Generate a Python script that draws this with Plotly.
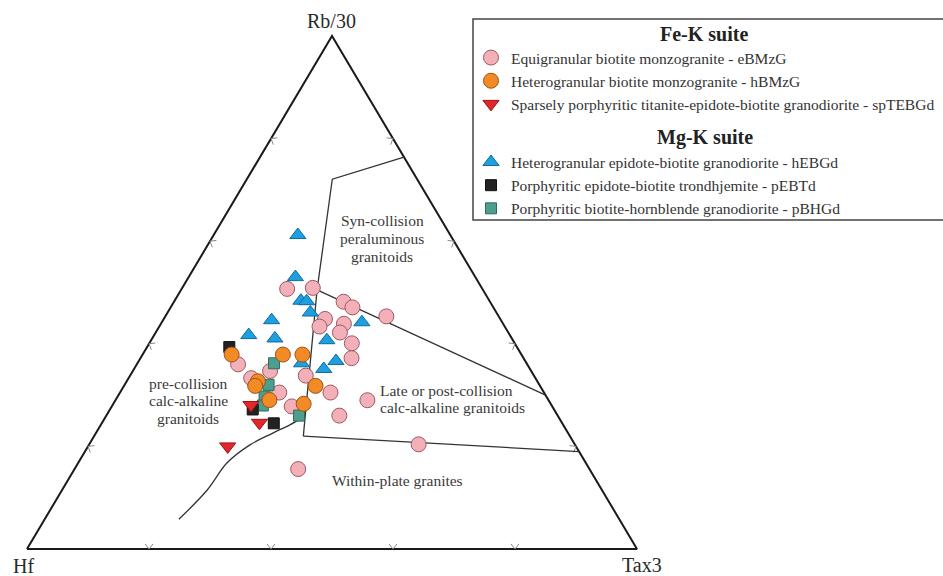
import math
import plotly.graph_objects as go

# ---------------------------------------------------------------------------
# Ternary compositions, in percent: Rb/30, Hf, Ta*3
# ---------------------------------------------------------------------------
# Fe-K suite
ebmzg_rb = [50.7, 50.9, 48.2, 47.1, 45.3, 44.8, 43.4, 43.9, 42.2, 40.1, 37.2,
            36.0, 34.7, 33.3, 33.8, 30.5, 30.5, 27.8, 26.0, 29.0, 20.4, 15.6]
ebmzg_hf = [32.0, 27.7, 24.0, 23.1, 18.4, 28.7, 30.4, 26.1, 27.6, 26.7, 28.2,
            47.4, 42.8, 46.6, 37.4, 43.4, 35.0, 42.7, 35.8, 29.7, 25.6, 47.8]
ebmzg_ta = [17.3, 21.4, 27.8, 29.8, 36.2, 26.4, 26.3, 30.0, 30.2, 33.2, 34.6,
            16.6, 22.5, 20.1, 28.8, 26.1, 34.5, 29.5, 38.2, 41.3, 54.0, 36.7]

hbmzg_rb = [37.9, 37.9, 37.9, 32.7, 31.8, 31.8, 29.0, 28.3]
hbmzg_hf = [47.5, 39.1, 35.9, 45.8, 46.7, 36.8, 45.7, 40.5]
hbmzg_ta = [14.6, 23.0, 26.2, 21.5, 21.5, 31.4, 25.2, 31.2]

sptebgd_rb = [28.1, 24.6, 20.0]
sptebgd_hf = [49.3, 49.6, 57.1]
sptebgd_ta = [22.7, 25.8, 22.9]

# Mg-K suite
hebgd_rb = [61.2, 53.0, 48.4, 48.3, 46.1, 44.2, 44.6, 41.7, 41.0, 40.7, 36.6, 35.1, 36.2]
hebgd_hf = [25.0, 29.5, 30.9, 30.0, 30.5, 23.0, 37.6, 42.8, 38.8, 30.5, 31.0, 33.8, 36.9]
hebgd_ta = [13.8, 17.5, 20.7, 21.7, 23.4, 32.8, 17.8, 15.5, 20.1, 28.8, 32.3, 31.1, 26.9]

pebtd_rb = [39.4, 27.2, 24.5]
pebtd_hf = [47.2, 49.4, 47.3]
pebtd_ta = [13.5, 23.4, 28.2]

pbhgd_rb = [36.2, 32.0, 29.7, 28.0, 26.0]
pbhgd_hf = [41.4, 44.4, 46.2, 47.4, 42.4]
pbhgd_ta = [22.4, 23.6, 24.1, 24.7, 31.6]

# Field boundaries (Harris et al., 1986), same ternary components
syn_rb = [76.4, 72.1, 50.5, 22.0]
syn_hf = [0.0, 13.9, 27.2, 43.7]
syn_ta = [23.6, 14.0, 22.3, 34.3]

late_rb = [50.5, 30.0]
late_hf = [27.2, 0.0]
late_ta = [22.3, 70.0]

wpg_rb = [22.0, 19.0]
wpg_hf = [43.7, 0.0]
wpg_ta = [34.3, 81.0]

vag_rb = [5.8, 11.5, 16.8, 20.3, 22.6, 24.2, 25.9]
vag_hf = [72.2, 64.7, 58.8, 53.3, 48.4, 44.8, 41.5]
vag_ta = [22.0, 23.8, 24.4, 26.4, 29.0, 31.0, 32.6]

tick_fracs = [20, 40, 60, 80]

# ---------------------------------------------------------------------------
W, H = 943, 576
# pixel extent of the triangle: base from x=27 to 637 at y=549, apex at y=36
X0, XW = 27, 610
Y0, YH = 549, 513


def to_xy(rb, hf, ta):
    """Project ternary compositions onto the planar triangle."""
    xs, ys = [], []
    for r, h, t in zip(rb, hf, ta):
        s = r + h + t
        a, c = r / s, t / s
        xs.append(c + a / 2)
        ys.append(a)
    return xs, ys


def paper(px, py):
    return px / W, 1 - py / H


fig = go.Figure()

# triangle frame
fx, fy = to_xy([0, 0, 100, 0], [100, 0, 0, 100], [0, 100, 0, 0])
fig.add_trace(go.Scatter(x=fx, y=fy, mode="lines", line=dict(color="#1a1a1a", width=2),
                         hoverinfo="skip", showlegend=False))

# chevron tick marks on each side (apex on the edge, arms pointing inward)
tx, ty = [], []
L, th = 6.5, math.radians(38)
sides = []
for f in tick_fracs:
    k = f / 100
    sides.append(((k, 0.0), (0.0, 1.0), (1.0, 0.0)))                       # base
    dl = (0.5 * XW, YH); nl = math.hypot(*dl)
    sides.append(((k / 2, k), (dl[1] / nl, -dl[0] / nl), (dl[0] / nl, dl[1] / nl)))   # left
    dr = (-0.5 * XW, YH); nr = math.hypot(*dr)
    sides.append(((1 - k / 2, k), (-dr[1] / nr, dr[0] / nr), (dr[0] / nr, dr[1] / nr)))  # right
for (px_, py_), n, d in sides:
    for sgn in (-1, 1):
        ux = n[0] * math.cos(th) + sgn * d[0] * math.sin(th)
        uy = n[1] * math.cos(th) + sgn * d[1] * math.sin(th)
        tx += [px_, px_ + L * ux / XW, None]
        ty += [py_, py_ + L * uy / YH, None]
fig.add_trace(go.Scatter(x=tx, y=ty, mode="lines", line=dict(color="#8a8a8a", width=1),
                         hoverinfo="skip", showlegend=False))

# field boundaries
for rb, hf, ta, shape in [(syn_rb, syn_hf, syn_ta, "linear"),
                          (late_rb, late_hf, late_ta, "linear"),
                          (wpg_rb, wpg_hf, wpg_ta, "linear"),
                          (vag_rb, vag_hf, vag_ta, "spline")]:
    bx, by = to_xy(rb, hf, ta)
    fig.add_trace(go.Scatter(x=bx, y=by, mode="lines",
                             line=dict(color="#333333", width=1.3, shape=shape),
                             hoverinfo="skip", showlegend=False))

# samples (drawing order controls overlap; legendrank controls legend order)
series = [
    ("Equigranular biotite monzogranite - eBMzG", ebmzg_rb, ebmzg_hf, ebmzg_ta,
     "circle", 15, "#F4B0B8", "#9A5A62", "fe", 1),
    ("Porphyritic biotite-hornblende granodiorite - pBHGd", pbhgd_rb, pbhgd_hf, pbhgd_ta,
     "square", 11, "#4E9E8E", "#2C6B5F", "mg", 6),
    ("Porphyritic epidote-biotite trondhjemite - pEBTd", pebtd_rb, pebtd_hf, pebtd_ta,
     "square", 11, "#222222", "#111111", "mg", 5),
    ("Heterogranular epidote-biotite granodiorite - hEBGd", hebgd_rb, hebgd_hf, hebgd_ta,
     "triangle-up", 14, "#1EA0E0", "#0F6A9A", "mg", 4),
    ("Sparsely porphyritic titanite-epidote-biotite granodiorite - spTEBGd",
     sptebgd_rb, sptebgd_hf, sptebgd_ta, "triangle-down", 14, "#E2262C", "#9A1418", "fe", 3),
    ("Heterogranular biotite monzogranite - hBMzG", hbmzg_rb, hbmzg_hf, hbmzg_ta,
     "circle", 15, "#F28A26", "#9A5418", "fe", 2),
]
for name, rb, hf, ta, sym, size, fill, edge, grp, rank in series:
    x, y = to_xy(rb, hf, ta)
    fig.add_trace(go.Scatter(
        x=x, y=y, mode="markers", name=name, legendgroup=grp, legendrank=rank,
        marker=dict(symbol=sym, size=size, color=fill, line=dict(color=edge, width=1)),
        cliponaxis=False,
    ))

serif = "Liberation Serif"
ann = []


def label(text, px, py, size=15.5, xanchor="center", bold=False, color="#3a3a3a"):
    x, y = paper(px, py)
    ann.append(dict(text=f"<b>{text}</b>" if bold else text, x=x, y=y, xref="paper",
                    yref="paper", xanchor=xanchor, yanchor="middle", showarrow=False,
                    font=dict(family=serif, size=size, color=color)))


# apex labels
label("Rb/30", 331, 21, size=20, color="#2a2a2a")
label("Hf", 23, 566, size=20, color="#2a2a2a")
label("Tax3", 642, 565, size=20, color="#2a2a2a")

# field names
for t, yy in [("Syn-collision", 220.7), ("peraluminous", 238.3), ("granitoids", 256)]:
    label(t, 382, yy)
for t, yy in [("pre-collision", 383), ("calc-alkaline", 400.7), ("granitoids", 418.3)]:
    label(t, 188, yy)
label("Late or post-collision", 378, 390.5, xanchor="left")
label("calc-alkaline granitoids", 378, 407, xanchor="left")
label("Within-plate granites", 397, 480)

# legend group headings
label("Fe-K suite", 704, 34, size=20, bold=True, color="#222222")
label("Mg-K suite", 705, 137, size=20, bold=True, color="#222222")

bx0, by0 = paper(473, 19)
bx1, by1 = paper(1010, 220)
shapes = [dict(type="rect", xref="paper", yref="paper", x0=bx0, y0=by1, x1=bx1, y1=by0,
               line=dict(color="#444444", width=1.5), fillcolor="rgba(0,0,0,0)")]

lx, ly = paper(471, 41)
fig.update_layout(
    width=W, height=H,
    margin=dict(l=0, r=0, t=0, b=0, autoexpand=False),
    paper_bgcolor="white", plot_bgcolor="white",
    xaxis=dict(range=[-X0 / XW, (W - X0) / XW], visible=False, fixedrange=True),
    yaxis=dict(range=[-(H - Y0) / YH, Y0 / YH], visible=False, fixedrange=True),
    annotations=ann, shapes=shapes,
    legend=dict(x=lx, y=ly, xanchor="left", yanchor="top", bgcolor="rgba(0,0,0,0)",
                borderwidth=0, tracegroupgap=35, itemsizing="trace", traceorder="grouped",
                font=dict(family=serif, size=15.5, color="#333333")),
    showlegend=True,
)

fig.write_html("out.html")
